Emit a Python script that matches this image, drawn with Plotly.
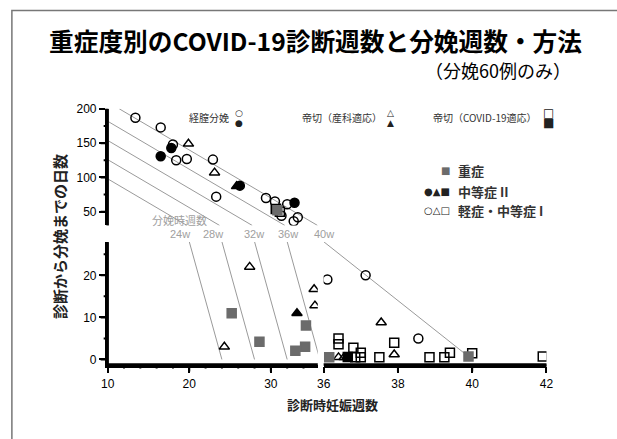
import plotly.graph_objects as go

# ---- data: gestational week at diagnosis / days from diagnosis to delivery ----
# vaginal delivery
vag_mild_wk = [13.4, 16.5, 18.0, 18.4, 19.7, 22.9, 23.3, 29.4, 30.5, 32.0, 33.3, 32.8, 31.3, 36.1, 37.13, 38.55]
vag_mild_days = [187, 173, 148, 125, 127, 126, 72, 70, 65, 61, 42, 36, 44, 19, 20, 5]
vag_mod2_wk = [16.5, 17.8, 26.2, 32.9]
vag_mod2_days = [131, 143, 88, 63]

# caesarean section, obstetric indication
csob_mild_wk = [19.9, 23.1, 27.4, 24.3, 35.3, 35.4, 37.55, 37.9, 36.4, 36.55]
csob_mild_days = [149, 107, 22, 3, 16.7, 12.8, 8.8, 1.2, 0.5, 0.5]
csob_mod2_wk = [25.8, 33.2]
csob_mod2_days = [87, 11]

# caesarean section, COVID-19 indication
cscov_mild_wk = [31.1, 36.4, 36.4, 36.8, 37.0, 37.0, 36.85, 37.5, 37.9, 38.85, 39.25, 39.4, 40.0, 41.9]
cscov_mild_days = [50, 5.0, 3.6, 2.8, 1.6, 0.5, 0.5, 0.5, 4.0, 0.5, 0.5, 1.6, 1.5, 0.7]
cscov_mod2_wk = [30.6, 36.65]
cscov_mod2_days = [54, 0.6]
cscov_sev_wk = [30.8, 25.2, 28.6, 34.3, 33.0, 34.2, 36.15, 39.9]
cscov_sev_days = [52, 11, 4.2, 8.1, 2.1, 3.0, 0.5, 0.7]

# reference lines: gestational week at delivery
delivery_weeks = [24, 28, 32, 36, 40]
delivery_labels = ["24w", "28w", "32w", "36w", "40w"]
delivery_label_wk = [18.9, 22.9, 27.9, 32.1, 36.0]

# axis breaks
X_SPLIT = 36      # weeks: left panel below, right panel from here
Y_TOP_MIN = 30    # days: lower limit of the upper panel
Y_LOW_MAX = 28    # days: upper limit of the lower panel

W, H = 617, 439


def px_x(p):
    return p / W


def px_y(p):
    return 1 - p / H


fig = go.Figure()

GRAY_SQ = "#6b6b6b"
groups = [
    (vag_mild_wk, vag_mild_days, "circle-open", "black"),
    (vag_mod2_wk, vag_mod2_days, "circle", "black"),
    (csob_mild_wk, csob_mild_days, "triangle-up-open", "black"),
    (csob_mod2_wk, csob_mod2_days, "triangle-up", "black"),
    (cscov_mild_wk, cscov_mild_days, "square-open", "black"),
    (cscov_mod2_wk, cscov_mod2_days, "square", "black"),
    (cscov_sev_wk, cscov_sev_days, "square", GRAY_SQ),
]

LINE_COL = "#9a9a9a"

# delivery-week reference lines, one piece per panel
for wk in delivery_weeks:
    d_hi = min(200, 7 * (wk - 10))
    top_d = [d_hi, Y_TOP_MIN]
    fig.add_trace(go.Scatter(x=[wk - d / 7 for d in top_d], y=top_d, mode="lines",
                             line=dict(color=LINE_COL, width=1), xaxis="x", yaxis="y2",
                             showlegend=False, hoverinfo="skip"))
    low_d = [Y_LOW_MAX, 0]
    low_x = [wk - d / 7 for d in low_d]
    xa = "x2" if low_x[0] >= X_SPLIT else "x"
    fig.add_trace(go.Scatter(x=low_x, y=low_d, mode="lines",
                             line=dict(color=LINE_COL, width=1), xaxis=xa, yaxis="y",
                             showlegend=False, hoverinfo="skip"))

# case markers, placed on the panel their values fall into
for wks, days, sym, col in groups:
    for xa in ("x", "x2"):
        for ya in ("y", "y2"):
            px_, py_ = [], []
            for w, d in zip(wks, days):
                in_x = (w >= X_SPLIT) == (xa == "x2")
                in_y = (d >= Y_TOP_MIN) == (ya == "y2")
                if in_x and in_y:
                    px_.append(w)
                    py_.append(d)
            if not px_:
                continue
            fig.add_trace(go.Scatter(
                x=px_, y=py_, mode="markers", xaxis=xa, yaxis=ya,
                marker=dict(symbol=sym, size=9, color=col,
                            line=dict(color=col, width=1.5)),
                showlegend=False))


def axis_style(**kw):
    base = dict(showline=True, linecolor="black", linewidth=2.5, ticks="outside",
                tickcolor="black", tickwidth=2, ticklen=6, showgrid=False,
                zeroline=False,
                tickfont=dict(family="Liberation Sans", size=12, color="black"))
    base.update(kw)
    return base


fig.update_layout(
    width=W, height=H, margin=dict(l=0, r=0, t=0, b=0),
    paper_bgcolor="white", plot_bgcolor="white",
    xaxis=axis_style(domain=[px_x(103), px_x(318)], range=[10, 35.75], anchor="y",
                     tick0=10, dtick=10),
    xaxis2=axis_style(domain=[px_x(324), px_x(552)], range=[36, 42], anchor="y",
                      tick0=36, dtick=2),
    yaxis=axis_style(domain=[px_y(365), px_y(240)], range=[-1.2, 27.9], anchor="x",
                     tick0=0, dtick=10),
    yaxis2=axis_style(domain=[px_y(223), px_y(104)], range=[Y_TOP_MIN, 200], anchor="x",
                      tick0=50, dtick=50),
)

# broken-axis lines and tick marks, drawn as shapes on each axis segment
AX = dict(color="black", width=2.5)
TK = dict(color="black", width=2)
shapes = [
    dict(type="line", xref="x domain", yref="y domain", x0=0, x1=1, y0=0, y1=0, line=AX),
    dict(type="line", xref="x2 domain", yref="y domain", x0=0, x1=1, y0=0, y1=0, line=AX),
    dict(type="line", xref="x domain", yref="y domain", x0=0, x1=0, y0=0, y1=1, line=AX),
    dict(type="line", xref="x domain", yref="y2 domain", x0=0, x1=0, y0=0, y1=1, line=AX),
]
x_left_ticks = [(v, 7 if v % 10 == 0 else 4) for v in range(10, 36, 2)]
x_right_ticks = [(v, 7) for v in range(38, 43, 2)]
y_low_ticks = [(v, 7 if v % 10 == 0 else 4) for v in range(0, 28, 5)]
y_top_ticks = [(v, 7 if v % 50 == 0 else 4) for v in range(50, 201, 25)]
for xr, ticks in (("x", x_left_ticks), ("x2", x_right_ticks)):
    for v, ln in ticks:
        shapes.append(dict(type="line", xref=xr, yref="y domain", ysizemode="pixel",
                           yanchor=0, x0=v, x1=v, y0=0, y1=-ln, line=TK))
for yr, ticks in (("y", y_low_ticks), ("y2", y_top_ticks)):
    for v, ln in ticks:
        shapes.append(dict(type="line", xref="x domain", yref=yr, xsizemode="pixel",
                           xanchor=0, x0=0, x1=-ln, y0=v, y1=v, line=TK))
# slide frame
shapes.append(dict(type="rect", xref="paper", yref="paper", x0=px_x(5), x1=px_x(640),
                   y0=px_y(460), y1=px_y(3.5), line=dict(color="#777", width=1.5)))

JP = "Noto Sans CJK JP"
ann = []


def note(text, x, y, font, xanchor="center", xref="paper", yref="paper", **kw):
    ann.append(dict(text=text, x=x, y=y, xref=xref, yref=yref, xanchor=xanchor,
                    yanchor="middle", showarrow=False, font=font, **kw))


# title and subtitle
note("<b>重症度別のCOVID-19診断週数と分娩週数・方法</b>", px_x(316), px_y(34),
     dict(family=JP, size=24.7, color="black"))
note("（分娩60例のみ）", px_x(579), px_y(64), dict(family=JP, size=18, color="black"),
     xanchor="right")
# axis titles
note("<b>診断から分娩までの日数</b>", px_x(53), px_y(234),
     dict(family=JP, size=15, color="#222"), textangle=-90)
note("<b>診断時妊娠週数</b>", px_x(333), px_y(406), dict(family=JP, size=13, color="#222"))
# delivery-week line labels
note("分娩時週数", px_x(176), px_y(217), dict(family=JP, size=11, color="#a0a0a0"))
for lab, lw in zip(delivery_labels, delivery_label_wk):
    note(lab, lw, px_y(232), dict(family="Liberation Sans", size=11, color="#a0a0a0"),
         xref="x2" if lw >= X_SPLIT else "x")

# delivery-method key
LEG = dict(family=JP, size=10, color="#333")
SYM = "DejaVu Sans"
note("経膣分娩", px_x(229), px_y(113), LEG, xanchor="right")
note("帝切（産科適応）", px_x(386), px_y(113), LEG, xanchor="right")
note("帝切（COVID-19適応）", px_x(544), px_y(113), LEG, xanchor="right")
for sx, top_sym, bot_sym, sz in [(237, "○", "●", 9), (392, "△", "▲", 9), (554, "□", "■", 12)]:
    note(top_sym, px_x(sx), px_y(108), dict(family=SYM, size=sz, color="#222"))
    note(bot_sym, px_x(sx), px_y(118), dict(family=SYM, size=sz, color="#222"))

# severity key
SEV = dict(family=JP, size=13, color="#333")
note("■", px_x(449), px_y(167), dict(family=SYM, size=10, color=GRAY_SQ))
note("●▲■", px_x(455), px_y(188), dict(family=SYM, size=10, color="#222"), xanchor="right")
note("○△□", px_x(455), px_y(208), dict(family=SYM, size=10, color="#222"), xanchor="right")
for txt, yy in [("<b>重症</b>", 167), ("<b>中等症 II</b>", 188), ("<b>軽症・中等症 I</b>", 208)]:
    note(txt, px_x(459), px_y(yy), SEV, xanchor="left")

fig.update_layout(annotations=ann, shapes=shapes)

fig.write_html("out.html")
